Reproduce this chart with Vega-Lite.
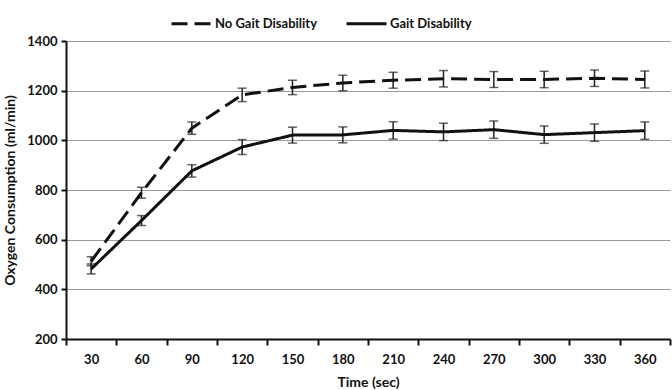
{
  "$schema": "https://vega.github.io/schema/vega-lite/v6.json",
  "width": 604,
  "height": 298,
  "autosize": {"type": "none"},
  "padding": {"left": 66, "top": 41, "right": 2, "bottom": 51},
  "background": "white",
  "config": {
    "font": "Lato",
    "view": {"stroke": null},
    "axis": {"labelFont": "Lato", "titleFont": "Lato", "labelFontWeight": "bold", "titleFontWeight": "bold", "labelColor": "#111", "titleColor": "#111", "labelFontSize": 13, "titleFontSize": 14, "domainColor": "#111", "domainWidth": 2, "tickColor": "#111", "tickWidth": 2}
  },
  "data": {
    "values": [
      {"group": "No Gait Disability", "time": 30, "v": 513, "lo": 495, "hi": 531},
      {"group": "No Gait Disability", "time": 60, "v": 789, "lo": 767, "hi": 811},
      {"group": "No Gait Disability", "time": 90, "v": 1049, "lo": 1024, "hi": 1074},
      {"group": "No Gait Disability", "time": 120, "v": 1183, "lo": 1156, "hi": 1210},
      {"group": "No Gait Disability", "time": 150, "v": 1213, "lo": 1184, "hi": 1242},
      {"group": "No Gait Disability", "time": 180, "v": 1231, "lo": 1200, "hi": 1262},
      {"group": "No Gait Disability", "time": 210, "v": 1242, "lo": 1210, "hi": 1274},
      {"group": "No Gait Disability", "time": 240, "v": 1248, "lo": 1215, "hi": 1281},
      {"group": "No Gait Disability", "time": 270, "v": 1245, "lo": 1213, "hi": 1277},
      {"group": "No Gait Disability", "time": 300, "v": 1245, "lo": 1212, "hi": 1278},
      {"group": "No Gait Disability", "time": 330, "v": 1250, "lo": 1217, "hi": 1283},
      {"group": "No Gait Disability", "time": 360, "v": 1245, "lo": 1211, "hi": 1279},
      {"group": "Gait Disability", "time": 30, "v": 482, "lo": 462, "hi": 502},
      {"group": "Gait Disability", "time": 60, "v": 677, "lo": 657, "hi": 697},
      {"group": "Gait Disability", "time": 90, "v": 877, "lo": 852, "hi": 902},
      {"group": "Gait Disability", "time": 120, "v": 973, "lo": 943, "hi": 1003},
      {"group": "Gait Disability", "time": 150, "v": 1021, "lo": 989, "hi": 1053},
      {"group": "Gait Disability", "time": 180, "v": 1022, "lo": 990, "hi": 1054},
      {"group": "Gait Disability", "time": 210, "v": 1040, "lo": 1005, "hi": 1075},
      {"group": "Gait Disability", "time": 240, "v": 1034, "lo": 999, "hi": 1069},
      {"group": "Gait Disability", "time": 270, "v": 1043, "lo": 1008, "hi": 1078},
      {"group": "Gait Disability", "time": 300, "v": 1023, "lo": 988, "hi": 1058},
      {"group": "Gait Disability", "time": 330, "v": 1031, "lo": 996, "hi": 1066},
      {"group": "Gait Disability", "time": 360, "v": 1039, "lo": 1004, "hi": 1074}
    ]
  },
  "encoding": {
    "x": {
      "field": "time", "type": "ordinal",
      "scale": {"type": "band", "paddingInner": 0, "paddingOuter": 0},
      "axis": {"title": "Time (sec)", "labelAngle": 0, "tickBand": "extent", "tickSize": 6, "labelPadding": 8, "titlePadding": 9, "grid": false}
    }
  },
  "layer": [
    {
      "mark": {"type": "errorbar", "ticks": {"size": 9, "thickness": 1.5, "color": "#222"}, "rule": {"strokeWidth": 1.5, "color": "#222"}},
      "encoding": {
        "y": {
          "field": "lo", "type": "quantitative",
          "scale": {"domain": [200, 1400], "zero": false, "nice": false},
          "axis": {"title": "Oxygen Consumption (ml/min)", "format": "d", "values": [200, 400, 600, 800, 1000, 1200, 1400], "grid": true, "gridColor": "#9a9a9a", "gridWidth": 1.2, "tickSize": 5, "labelPadding": 4, "titlePadding": 9}
        },
        "y2": {"field": "hi"}
      }
    },
    {
      "mark": {"type": "line", "color": "#111", "strokeWidth": 3},
      "encoding": {
        "y": {
          "field": "v", "type": "quantitative",
          "scale": {"domain": [200, 1400], "zero": false, "nice": false},
          "axis": {"title": "Oxygen Consumption (ml/min)", "format": "d", "values": [200, 400, 600, 800, 1000, 1200, 1400], "grid": true, "gridColor": "#9a9a9a", "gridWidth": 1.2, "tickSize": 5, "labelPadding": 4, "titlePadding": 9}
        },
        "strokeDash": {
          "field": "group", "type": "nominal",
          "scale": {"domain": ["No Gait Disability", "Gait Disability"], "range": [[16, 7], [1, 0]]},
          "legend": {"title": null, "orient": "none", "legendX": 104, "legendY": -39, "direction": "horizontal", "symbolType": "stroke", "symbolSize": 1600, "symbolStrokeWidth": 3, "symbolStrokeColor": "#111", "labelFont": "Lato", "labelFontWeight": "bold", "labelFontSize": 13, "labelColor": "#111", "columnPadding": 22, "labelOffset": 2}
        }
      }
    }
  ]
}
